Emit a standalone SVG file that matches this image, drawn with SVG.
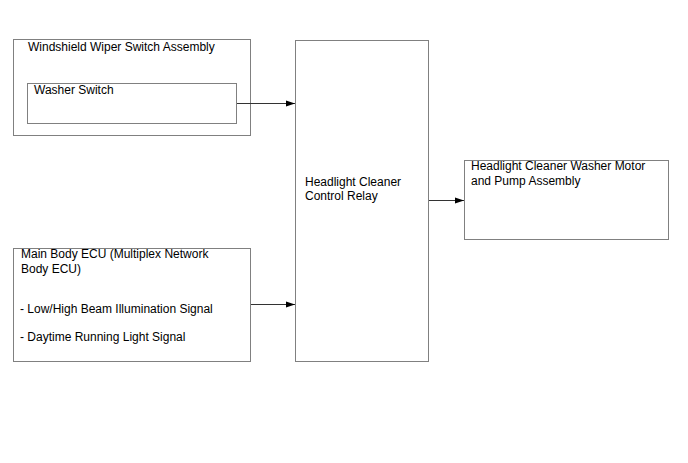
<svg xmlns="http://www.w3.org/2000/svg" width="688" height="463" viewBox="0 0 688 463">
<style>
.box{fill:#fff;stroke:#808080;stroke-width:1}
.t{font-family:"Liberation Sans",Arial,sans-serif;font-size:12px;fill:#000}
.c{stroke:#333;stroke-width:1;fill:none}
</style>
<defs>
<marker id="ah" markerWidth="10" markerHeight="8" refX="9" refY="4" orient="auto" markerUnits="userSpaceOnUse">
<path d="M0,1 L9,4 L0,7 Z" fill="#000"/>
</marker>
</defs>
<rect width="688" height="463" fill="#fff"/>
<g id="wiper-switch">
<rect class="box" x="13.5" y="39.5" width="237" height="96"/>
<text class="t" x="28" y="51">Windshield Wiper Switch Assembly</text>
</g>
<g id="washer-switch">
<rect class="box" x="27.5" y="83.5" width="209" height="40"/>
<text class="t" x="34" y="94">Washer Switch</text>
</g>
<g id="main-ecu">
<rect class="box" x="13.5" y="248.5" width="237" height="113"/>
<text class="t" x="21" y="258">Main Body ECU (Multiplex Network</text>
<text class="t" x="21" y="273">Body ECU)</text>
<text class="t" x="20" y="313">- Low/High Beam Illumination Signal</text>
<text class="t" x="20" y="341">- Daytime Running Light Signal</text>
</g>
<g id="relay">
<rect class="box" x="295.5" y="40.5" width="133" height="321"/>
<text class="t" x="305" y="186">Headlight Cleaner</text>
<text class="t" x="305" y="200">Control Relay</text>
</g>
<g id="motor">
<rect class="box" x="464.5" y="160.5" width="204" height="79"/>
<text class="t" x="471" y="170">Headlight Cleaner Washer Motor</text>
<text class="t" x="471" y="185">and Pump Assembly</text>
</g>
<g id="connectors">
<line class="c" x1="237" y1="103.5" x2="295" y2="103.5" marker-end="url(#ah)"/>
<line class="c" x1="251" y1="304.5" x2="295" y2="304.5" marker-end="url(#ah)"/>
<line class="c" x1="429" y1="200.5" x2="464" y2="200.5" marker-end="url(#ah)"/>
</g>
</svg>
